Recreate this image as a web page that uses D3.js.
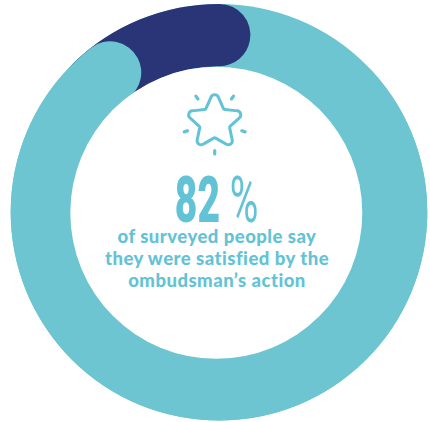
<!DOCTYPE html>
<html>
<head>
<meta charset="utf-8">
<script src="https://cdn.jsdelivr.net/npm/d3@7"></script>
<style>
html,body{margin:0;padding:0;background:#fff;}
svg{display:block;}
</style>
</head>
<body>
<svg id="chart" width="430" height="422"></svg>
<script>
// Survey result
const satisfiedShare = 82;
const otherShare = 100 - satisfiedShare;
const unitLabel = "%";
const captionLines = ["of surveyed people say", "they were satisfied by the", "ombudsman\u2019s action"];

const TEAL = "#6cc5d1", NAVY = "#293577", INK = "#62c3d6";
const cx = 219, cy = 212.2, outerR = 208.3, innerR = 146;
const holeX = 216.3, holeY = 212.8;

const svg = d3.select("#chart");
const toAngle = d3.scaleLinear().domain([0, 100]).range([0, 2 * Math.PI]);
const deg = d => d * Math.PI / 180;

const roundRing = d3.arc().innerRadius(innerR).outerRadius(outerR).cornerRadius((outerR - innerR) / 2);

const donut = svg.append("g").attr("transform", `translate(${cx},${cy})`);

// Teal base disc, then the minority band, then the majority band's rounded end on top
donut.append("circle").attr("r", outerR).attr("fill", TEAL);

const navyEnd = deg(10.2);
donut.append("path").attr("fill", NAVY)
  .attr("d", roundRing({startAngle: navyEnd - toAngle(otherShare), endAngle: navyEnd}));

const tealEnd = deg(332.2);
donut.append("path").attr("fill", TEAL)
  .attr("d", roundRing({startAngle: tealEnd - toAngle(satisfiedShare), endAngle: tealEnd}));

// The hole sits slightly left of the outer circle's centre
svg.append("circle").attr("cx", holeX).attr("cy", holeY).attr("r", innerR).attr("fill", "#fff");

// Star icon with rounded corners and five short rays
const starX = 214.7, starY = 122, starOuter = 33, starInner = 15.5, cornerR = 4;
const vertices = d3.range(10).map(i => {
  const r = i % 2 ? starInner : starOuter;
  const a = deg(i * 36);
  return [starX + r * Math.sin(a), starY - r * Math.cos(a)];
});
const star = d3.path();
const mid = (p, q) => [(p[0] + q[0]) / 2, (p[1] + q[1]) / 2];
const start = mid(vertices[9], vertices[0]);
star.moveTo(start[0], start[1]);
vertices.forEach((v, i) => {
  const next = vertices[(i + 1) % 10];
  const m = mid(v, next);
  star.arcTo(v[0], v[1], m[0], m[1], i % 2 ? 2 : cornerR);
  star.lineTo(m[0], m[1]);
});
star.closePath();
svg.append("path").attr("d", star.toString())
  .attr("fill", "none").attr("stroke", INK).attr("stroke-width", 3).attr("stroke-linejoin", "round");

svg.append("g").selectAll("line").data(d3.range(5).map(i => deg(36 + i * 72))).join("line")
  .attr("x1", a => starX + 28.5 * Math.sin(a)).attr("y1", a => starY - 28.5 * Math.cos(a))
  .attr("x2", a => starX + 32 * Math.sin(a)).attr("y2", a => starY - 32 * Math.cos(a))
  .attr("stroke", INK).attr("stroke-width", 3.2).attr("stroke-linecap", "round");

// Condensed headline figure: heavy digits, lighter unit
const headlineText = svg.append("text")
  .attr("transform", "translate(216.5,221.5) scale(0.6,1)")
  .attr("text-anchor", "middle")
  .attr("font-family", "Roboto, sans-serif").attr("font-size", 65)
  .attr("fill", INK);
headlineText.append("tspan").attr("font-weight", 900).text(satisfiedShare);
headlineText.append("tspan").attr("font-weight", 400).text(" " + unitLabel);

// Caption
const captionY = [242.5, 265, 287];
svg.append("g").selectAll("text").data(captionLines).join("text")
  .text(d => d)
  .attr("x", 217).attr("y", (d, i) => captionY[i])
  .attr("text-anchor", "middle")
  .attr("font-family", "Lato, sans-serif").attr("font-weight", 900).attr("font-size", 18.5)
  .attr("letter-spacing", 0.48)
  .attr("fill", INK);
</script>
</body>
</html>
